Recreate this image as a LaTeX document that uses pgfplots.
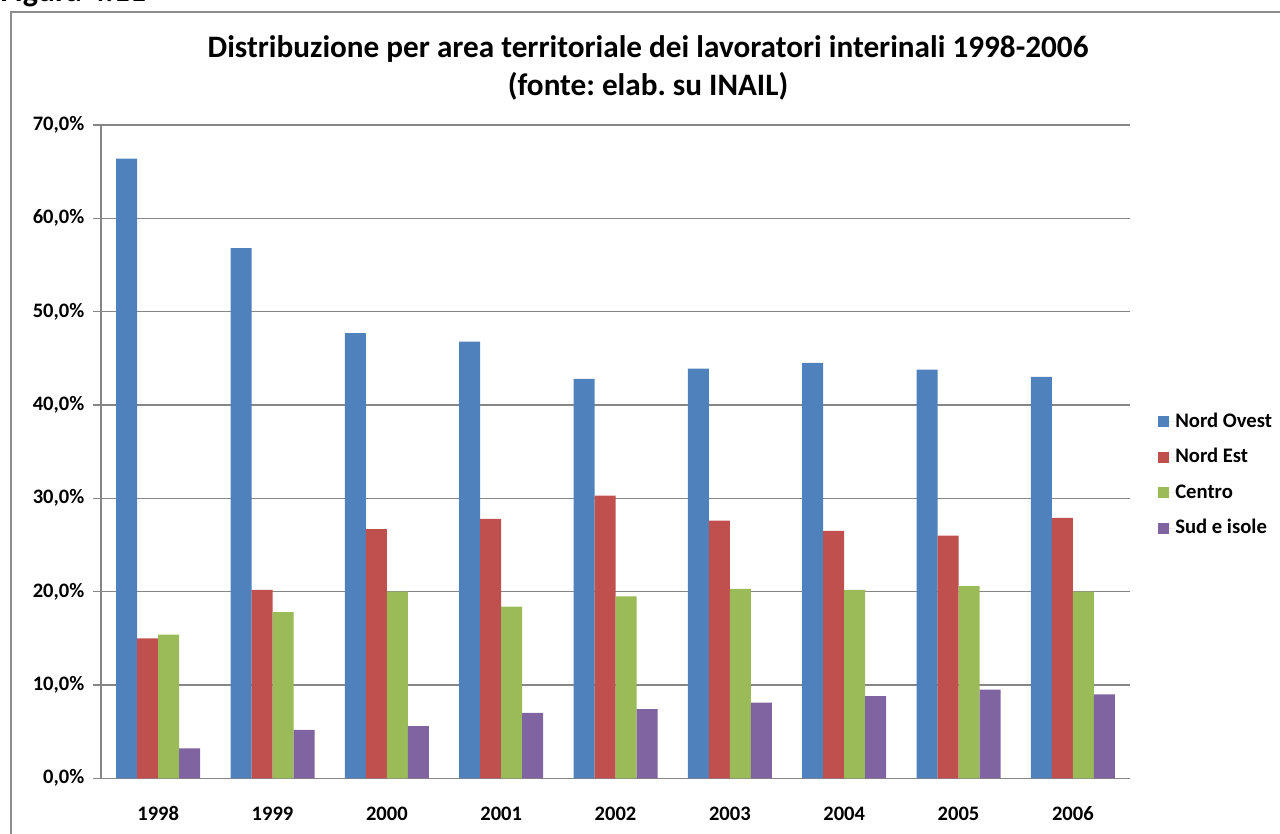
\documentclass[border=0pt]{standalone}
\usepackage{pgfplots}
\pgfplotsset{compat=1.18}
\usepackage{fontspec}
\setmainfont{Carlito}
\frenchspacing
\definecolor{cNO}{HTML}{4F81BD}
\definecolor{cNE}{HTML}{C0504D}
\definecolor{cCE}{HTML}{9BBB59}
\definecolor{cSI}{HTML}{8064A2}
\definecolor{gridc}{HTML}{868686}
\definecolor{framec}{HTML}{8C8C8C}
\begin{document}
\begin{tikzpicture}[x=0.75pt,y=-0.75pt]
\draw[framec, line width=1.5pt] (11,12) rectangle (1300,850);
\node[anchor=base west, font=\bfseries\fontsize{24}{28}\selectfont, inner sep=0pt] at (0,2) {Figura 4.11};
\node[anchor=base, font=\bfseries\fontsize{23.4}{28}\selectfont, inner sep=0pt] at (648,58) {Distribuzione per area territoriale dei lavoratori interinali 1998-2006};
\node[anchor=base, font=\bfseries\fontsize{23.4}{28}\selectfont, inner sep=0pt] at (648,96) {(fonte: elab. su INAIL)};
\begin{axis}[
  at={(75.75pt,-583.725pt)}, anchor=south west,
  scale only axis, width=771.75pt, height=490pt,
  ybar=0pt, bar width=15.75pt,
  xmin=-0.5, xmax=8.5, ymin=0, ymax=70,
  xtick={0,...,8},
  xticklabels={1998,1999,2000,2001,2002,2003,2004,2005,2006},
  minor xtick={-0.5,0.5,...,8.5},
  ytick={0,10,...,70},
  tick align=outside,
  major tick length=6pt, minor tick length=5.25pt,
  xtick style={draw=none},
  minor x tick style={gridc, line width=1.2pt},
  y tick style={gridc, line width=1.2pt},
  ymajorgrids, grid style={gridc, line width=1.2pt},
  axis x line*=bottom, axis y line*=left,
  axis line style={gridc, line width=1.2pt, -},
  /pgf/number format/assume math mode=true,
  yticklabel={\pgfmathprintnumber[fixed,fixed zerofill,precision=1,use comma]{\tick}\%},
  ticklabel style={font=\bfseries\fontsize{15.4}{18}\selectfont},
  yticklabel style={xshift=-3pt},
  xticklabel style={anchor=north, text height=10pt, text depth=0pt, yshift=-12pt},
  legend image code/.code={\fill[#1] (0pt,-4.1pt) rectangle (8.25pt,4.1pt); \path (0pt,0pt) -- (12.75pt,0pt);},
  legend style={draw=none, fill=none, at={(1,0.464)}, anchor=west, xshift=18pt,
    font=\bfseries\fontsize{15.5}{18}\selectfont,
    nodes={text height=11pt, text depth=3pt, inner sep=0pt},
    row sep=12.6pt},
  legend cell align=left,
]
\addplot[fill=cNO, draw=none] coordinates {(0,66.4) (1,56.8) (2,47.7) (3,46.8) (4,42.8) (5,43.9) (6,44.5) (7,43.8) (8,43.0)};
\addplot[fill=cNE, draw=none] coordinates {(0,15.0) (1,20.2) (2,26.7) (3,27.8) (4,30.3) (5,27.6) (6,26.5) (7,26.0) (8,27.9)};
\addplot[fill=cCE, draw=none] coordinates {(0,15.4) (1,17.8) (2,20.0) (3,18.4) (4,19.5) (5,20.3) (6,20.2) (7,20.6) (8,20.0)};
\addplot[fill=cSI, draw=none] coordinates {(0,3.2) (1,5.2) (2,5.6) (3,7.0) (4,7.4) (5,8.1) (6,8.8) (7,9.5) (8,9.0)};
\legend{Nord Ovest,Nord Est,Centro,Sud e isole}
\end{axis}
\pgfresetboundingbox
\useasboundingbox (0,0) rectangle (1280,834);
\end{tikzpicture}
\end{document}
